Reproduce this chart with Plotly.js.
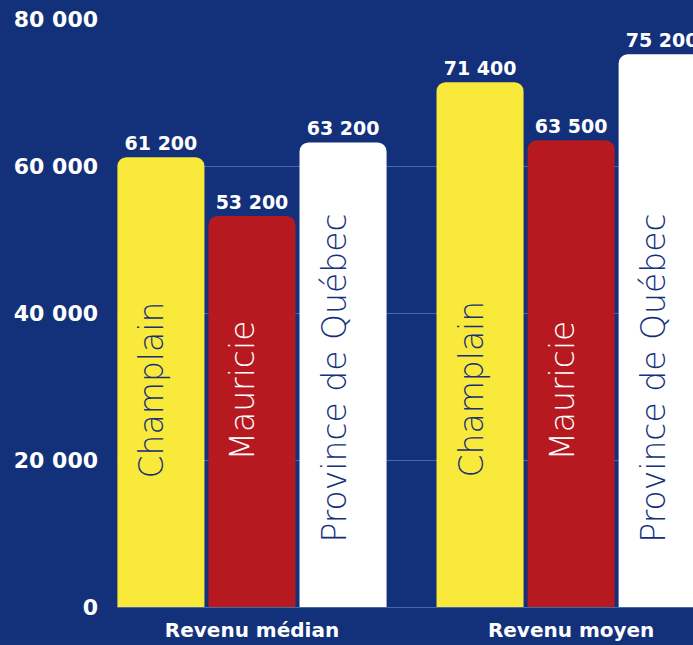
<!DOCTYPE html>
<html>
<head>
<meta charset="utf-8">
<script src="https://cdn.plot.ly/plotly-3.0.1.min.js"></script>
<style>html,body{margin:0;padding:0;background:#13307b;}#chart{width:693px;height:645px;}</style>
</head>
<body>
<div id="chart"></div>
<script>
const categories = ["Revenu médian", "Revenu moyen"];
const seriesNames = ["Champlain", "Mauricie", "Province de Québec"];
const champlain = [61200, 71400];
const mauricie = [53200, 63500];
const quebec = [63200, 75200];
const yTicks = [0, 20000, 40000, 60000, 80000];

const BG = "#13307b";
const colors = ["#f8e93b", "#b71921", "#ffffff"];
const labelColors = [BG, "#ffffff", BG];
const labelYShift = [-3, -4, 8];
const bargap = 0.144;
const slot = (1 - bargap) / 3;
const xPos = categories.map((c, i) => i);
const values = [champlain, mauricie, quebec];
const BOLD = {family: "DejaVu Sans", color: "#ffffff", weight: 700};

const traces = values.map((v, j) => ({
  type: "bar",
  name: seriesNames[j],
  x: xPos,
  y: v,
  marker: {color: colors[j], line: {width: 0}},
  text: v,
  texttemplate: "%{y:,}",
  textposition: "outside",
  textfont: Object.assign({}, BOLD, {size: 19}),
  cliponaxis: true,
  hoverinfo: "skip"
}));

const annotations = [];
values.forEach((v, j) => {
  xPos.forEach((x, i) => {
    annotations.push({
      x: x + (j - 1) * slot,
      y: 30000,
      xref: "x", yref: "y",
      xshift: -9,
      yshift: labelYShift[j],
      text: seriesNames[j],
      textangle: -90,
      showarrow: false,
      font: {family: "DejaVu Sans", size: 33, color: labelColors[j], weight: 200}
    });
  });
});

const layout = {
  width: 693, height: 645,
  paper_bgcolor: BG, plot_bgcolor: BG,
  margin: {l: 117, r: 0, t: 19, b: 38},
  separators: ", ",
  barmode: "group",
  bargap: bargap,
  bargroupgap: 0.044,
  barcornerradius: 9,
  showlegend: false,
  xaxis: {
    range: [-0.423, 1.382],
    tickvals: xPos,
    ticktext: categories,
    showgrid: false, zeroline: false, showline: false,
    ticks: "",
    ticklabelstandoff: 9,
    tickfont: Object.assign({}, BOLD, {size: 20}),
    fixedrange: true
  },
  yaxis: {
    range: [0, 80000],
    tickvals: yTicks,
    tickformat: ",",
    showgrid: true,
    gridcolor: "rgba(120,150,210,0.55)",
    gridwidth: 1,
    zeroline: true,
    zerolinecolor: "rgba(120,150,210,0.55)",
    showline: false,
    ticks: "",
    ticklabelstandoff: 18,
    tickfont: Object.assign({}, BOLD, {size: 22}),
    fixedrange: true
  },
  annotations: annotations
};

Plotly.newPlot("chart", traces, layout, {displayModeBar: false, staticPlot: true});
</script>
</body>
</html>
